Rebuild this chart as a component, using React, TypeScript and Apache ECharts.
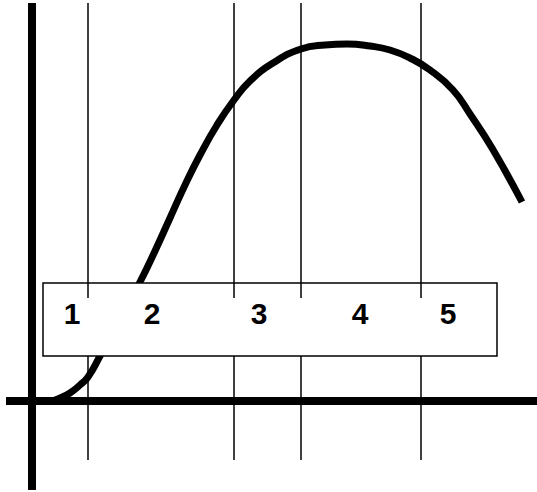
import React, { useEffect, useRef } from "react";
import * as echarts from "echarts";

// Data coordinates: origin at the crossing of the two thick axes.
const curveX = [8, 18, 28, 38, 48, 56, 68, 88, 108, 123, 138, 153, 168, 185, 202, 218, 241, 269, 293, 315, 338, 358, 378, 398, 421, 438, 460, 490];
const curveY = [0, 0, 3, 8, 16, 24, 45, 82, 119, 150, 183, 216, 246, 276, 301, 320, 338, 352, 356, 357, 355, 351, 343, 331, 311, 287, 253, 199];

const stageBoundaries = [56, 202, 269, 389];
const stageLabels = ["1", "2", "3", "4", "5"];
const stageLabelX = [40, 120, 227, 328, 416];
const stageLabelY = 88;

const boxX = [11, 465];
const boxY = [45, 118];

const axisXRange = [-26, 505];
const axisYRange = [-89, 398];
const upperSegment = [103, 398];
const lowerSegment = [-59, 45];

export default function App() {
  const ref = useRef<HTMLDivElement>(null);
  useEffect(() => {
    if (!ref.current) return;
    const chart = echarts.init(ref.current, undefined, { renderer: "svg" });
    const series: any[] = [];
    series.push({
      type: "line",
      data: [[axisXRange[0], 0], [axisXRange[1], 0]],
      showSymbol: false,
      lineStyle: { color: "#000", width: 8 },
      z: 1,
      silent: true,
    });
    series.push({
      type: "line",
      data: [[0, axisYRange[0]], [0, axisYRange[1]]],
      showSymbol: false,
      lineStyle: { color: "#000", width: 8 },
      z: 1,
      silent: true,
    });
    series.push({
      type: "line",
      data: curveX.map((x, i) => [x, curveY[i]]),
      smooth: 0.5,
      showSymbol: false,
      lineStyle: { color: "#000", width: 7, cap: "butt" },
      z: 2,
      silent: true,
    });
    series.push({
      type: "custom",
      z: 3,
      silent: true,
      data: [[boxX[0], boxY[1], boxX[1], boxY[0]]],
      renderItem: (params: any, api: any) => {
        const p0 = api.coord([api.value(0), api.value(1)]);
        const p1 = api.coord([api.value(2), api.value(3)]);
        return {
          type: "rect",
          shape: { x: p0[0], y: p0[1], width: p1[0] - p0[0], height: p1[1] - p0[1] },
          style: { fill: "#fff", stroke: "#000", lineWidth: 1.5 },
        };
      },
    });
    stageBoundaries.forEach((x) => {
      [upperSegment, lowerSegment].forEach((seg) => {
        series.push({
          type: "line",
          data: [[x, seg[0]], [x, seg[1]]],
          showSymbol: false,
          lineStyle: { color: "#000", width: 1.5 },
          z: 4,
          silent: true,
        });
      });
    });
    series.push({
      type: "custom",
      z: 5,
      silent: true,
      data: stageLabels.map((l, i) => [stageLabelX[i], stageLabelY]),
      renderItem: (params: any, api: any) => {
        const p = api.coord([api.value(0), api.value(1)]);
        return {
          type: "text",
          x: p[0],
          y: p[1],
          style: {
            text: stageLabels[params.dataIndex],
            fill: "#000",
            fontSize: 30,
            fontWeight: "bold",
            fontFamily: "Liberation Sans",
            align: "center",
            verticalAlign: "middle",
          },
        };
      },
    });
    chart.setOption({
      animation: false,
      backgroundColor: "#fff",
      grid: { left: 0, right: 0, top: 0, bottom: 0 },
      xAxis: { type: "value", min: -32, max: 505, show: false },
      yAxis: { type: "value", min: -91, max: 401, show: false },
      series,
    });
    return () => chart.dispose();
  }, []);
  return (
    <div
      ref={ref}
      style={{ position: "absolute", left: 0, top: 0, width: 537, height: 492 }}
    />
  );
}
